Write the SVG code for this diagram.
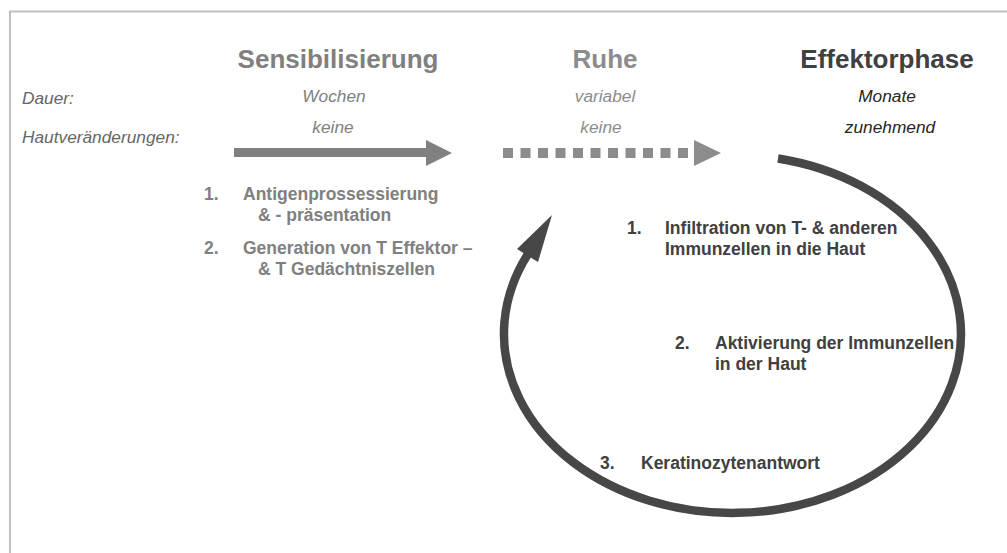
<svg xmlns="http://www.w3.org/2000/svg" width="1007" height="553" viewBox="0 0 1007 553">
<style>
text{font-family:"Liberation Sans",Arial,sans-serif}
.title{font-size:26px;font-weight:bold;text-anchor:middle}
.lbl{font-size:17.3px;font-style:italic;fill:#666}
.val{font-size:17.3px;font-style:italic;text-anchor:middle}
.item{font-size:17.5px;font-weight:bold}
.g{fill:#808080}
.d{fill:#404040}
</style>
<rect x="0" y="0" width="1007" height="553" fill="#fff"/>
<rect id="frame" x="10" y="11.5" width="1010" height="560" fill="none" stroke="#c0c0c0" stroke-width="2"/>
<g id="labels">
<text class="lbl" x="22" y="104">Dauer:</text>
<text class="lbl" x="22" y="143">Hautveränderungen:</text>
</g>
<g id="sensibilisierung">
<text class="title g" x="338" y="68">Sensibilisierung</text>
<text class="val g" x="334" y="102">Wochen</text>
<text class="val g" x="333" y="133">keine</text>
<text class="item g" x="204" y="200">1.</text>
<text class="item g" x="243" y="200">Antigenprossessierung</text>
<text class="item g" x="258" y="221">&amp; - präsentation</text>
<text class="item g" x="204" y="254">2.</text>
<text class="item g" x="243" y="254">Generation von T Effektor –</text>
<text class="item g" x="258" y="275">&amp; T Gedächtniszellen</text>
</g>
<g id="ruhe">
<text class="title" fill="#8c8c8c" x="605" y="68">Ruhe</text>
<text class="val" fill="#8c8c8c" x="605" y="102">variabel</text>
<text class="val" fill="#8c8c8c" x="601" y="133">keine</text>
</g>
<g id="effektorphase">
<text class="title d" x="887" y="68">Effektorphase</text>
<text class="val" fill="#262626" x="887" y="102">Monate</text>
<text class="val" fill="#262626" x="890" y="133">zunehmend</text>
<text class="item d" x="627" y="234">1.</text>
<text class="item d" x="665" y="234">Infiltration von T- &amp; anderen</text>
<text class="item d" x="665" y="255">Immunzellen in die Haut</text>
<text class="item d" x="675" y="349">2.</text>
<text class="item d" x="715" y="349">Aktivierung der Immunzellen</text>
<text class="item d" x="715" y="370">in der Haut</text>
<text class="item d" x="600" y="469">3.</text>
<text class="item d" x="641" y="469">Keratinozytenantwort</text>
</g>
<g id="connectors">
<rect x="234" y="148" width="193" height="9" fill="#808080"/>
<polygon points="426,140 452,153 426,166" fill="#808080"/>
<line x1="503" y1="153" x2="693" y2="153" stroke="#8c8c8c" stroke-width="10" stroke-dasharray="10 7.5"/>
<polygon points="694,140 721,153 694,166" fill="#8c8c8c"/>
<path d="M 778 158.5 A 228.5 179 0 1 1 528 254" fill="none" stroke="#474747" stroke-width="8.5"/>
<polygon points="552,215 517,249 538,262" fill="#474747"/>
</g>
</svg>
